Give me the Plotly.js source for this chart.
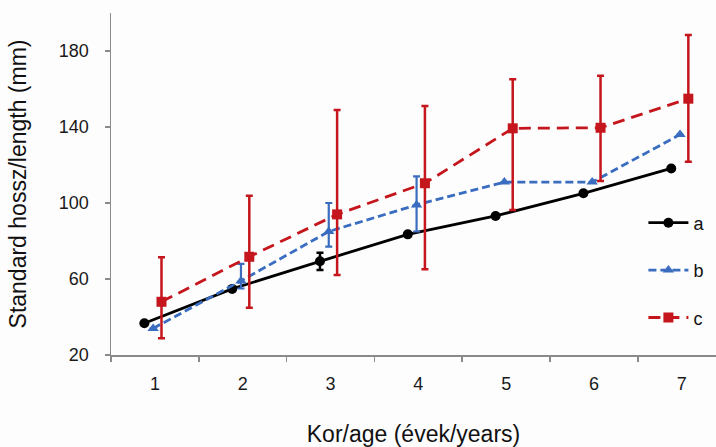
<!DOCTYPE html>
<html>
<head>
<meta charset="utf-8">
<script src="https://cdn.plot.ly/plotly-3.0.1.min.js"></script>
<style>html,body{margin:0;padding:0;background:#fdfdfd;}#chart{width:716px;height:447px;}</style>
</head>
<body>
<div id="chart"></div>
<script>
// ---- data ----
var ages = [1, 2, 3, 4, 5, 6, 7];
var tickLabels = ['1', '2', '3', '4', '5', '6', '7'];

var aMean = [36.7, 54.8, 69.3, 83.5, 93.2, 105.1, 118.2];
var aErr  = [0, 0, 4.5, 0, 0, 0, 0];

var bMean  = [34, 59, 85, 99, 111, 111, 136];
var bHigh  = [34, 68, 100, 114, 111, 111, 136];
var bLow   = [34, 55, 77, 85, 111, 111, 136];

var cMean = [48, 71.7, 94, 110.4, 139.3, 139.6, 154.9];
var cHigh = [71.4, 103.8, 148.9, 151, 165.1, 167, 188.4];
var cLow  = [28.8, 44.9, 62.1, 65.1, 96.3, 111.6, 121.7];

var seriesNames = ['a', 'b', 'c'];

// ---- helpers ----
function shift(arr, d) { return arr.map(function (v) { return v + d; }); }
function diff(a, b) { return a.map(function (v, i) { return Math.max(0, v - b[i]); }); }

var black = '#000000', blue = '#3a6dc0', red = '#c4161c';

var traces = [
  {
    x: shift(ages, -0.12), y: aMean, name: seriesNames[0], legendgroup: 'g1',
    mode: 'lines+markers', type: 'scatter',
    line: {color: black, width: 2.8},
    marker: {symbol: 'circle', size: 10, color: black},
    error_y: {type: 'data', array: aErr, visible: true, color: black, thickness: 2.5, width: 3.5}
  },
  {
    x: shift(ages, -0.02), y: bMean, name: seriesNames[1], legendgroup: 'g2',
    mode: 'lines+markers', type: 'scatter',
    line: {color: blue, width: 2.8, dash: '8px,4px'},
    marker: {symbol: 'triangle-up', size: 10, color: blue},
    error_y: {type: 'data', symmetric: false, array: diff(bHigh, bMean), arrayminus: diff(bMean, bLow),
              visible: true, color: blue, thickness: 2.2, width: 3.5}
  },
  {
    x: shift(ages, 0.075), y: cMean, name: seriesNames[2], legendgroup: 'g3',
    mode: 'lines+markers', type: 'scatter',
    line: {color: red, width: 2.8, dash: '12px,7px'},
    marker: {symbol: 'square', size: 10, color: red},
    error_y: {type: 'data', symmetric: false, array: diff(cHigh, cMean), arrayminus: diff(cMean, cLow),
              visible: true, color: red, thickness: 2.5, width: 3.5}
  }
];

var layout = {
  width: 716, height: 447,
  margin: {l: 111, r: 0, t: 13, b: 92},
  paper_bgcolor: '#fdfdfd', plot_bgcolor: '#fdfdfd',
  font: {family: 'Liberation Sans, Arial, sans-serif', color: '#222', size: 18},
  showlegend: true,
  legend: {
    x: 0.88, y: 0.44, xanchor: 'left', yanchor: 'top',
    bgcolor: 'rgba(0,0,0,0)', font: {size: 18, color: '#111'},
    tracegroupgap: 21, itemwidth: 40
  },
  xaxis: {
    range: [0.5, 7.39], showgrid: false, zeroline: false,
    showline: true, linecolor: '#8a8a8a', linewidth: 1.5,
    tickmode: 'array', tickvals: ages, ticktext: tickLabels, ticks: '',
    ticklabelstandoff: 12,
    tickfont: {size: 18, color: '#1a1a1a'},
    minor: {tickmode: 'array', tickvals: [0.5, 1.5, 2.5, 3.5, 4.5, 5.5, 6.5], ticks: 'outside',
            ticklen: 5, tickwidth: 1.5, tickcolor: '#8a8a8a', showgrid: false},
    title: {text: 'Kor/age (évek/years)', font: {size: 23, color: '#111'}, standoff: 35}
  },
  yaxis: {
    range: [20, 200], showgrid: false, zeroline: false,
    showline: true, linecolor: '#8a8a8a', linewidth: 1.5,
    tickmode: 'array', tickvals: [20, 60, 100, 140, 180],
    ticks: 'outside', ticklen: 5, tickwidth: 1.5, tickcolor: '#8a8a8a',
    ticklabelstandoff: 12,
    tickfont: {size: 18, color: '#1a1a1a'},
    title: {text: 'Standard hossz/length (mm)', font: {size: 23, color: '#111'}, standoff: 26}
  }
};

Plotly.newPlot('chart', traces, layout, {displayModeBar: false, staticPlot: true});
</script>
</body>
</html>
